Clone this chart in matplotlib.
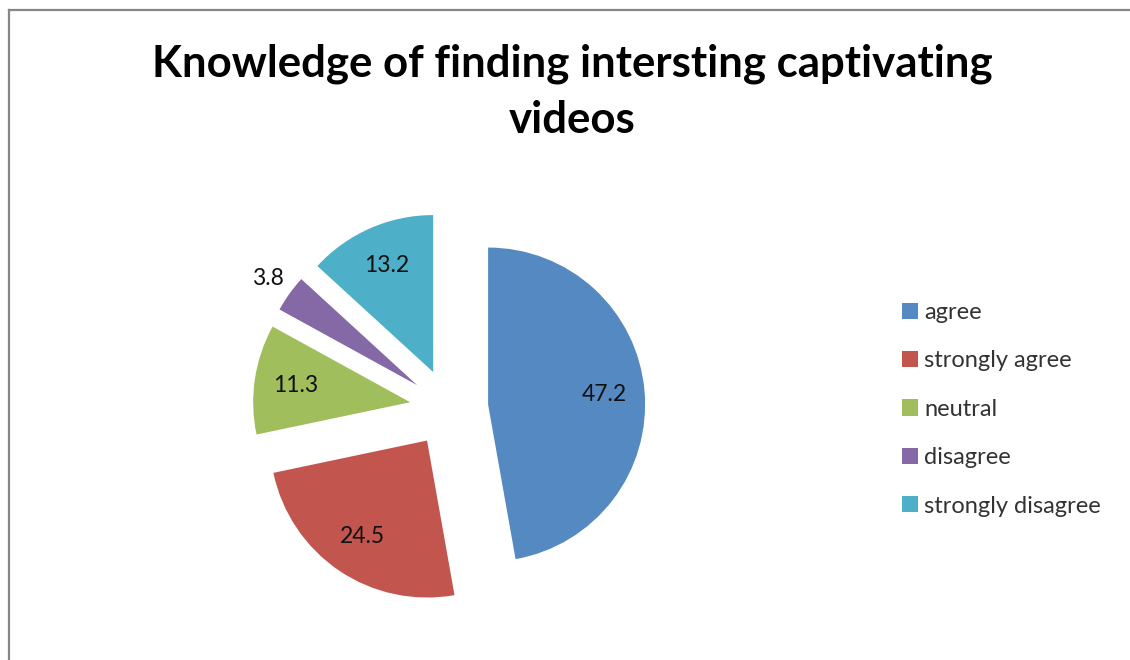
import matplotlib
matplotlib.use("Agg")
import matplotlib.pyplot as plt
from matplotlib.lines import Line2D
import numpy as np

title_lines = ["Knowledge of finding intersting captivating", "videos"]
categories = ["agree", "strongly agree", "neutral", "disagree", "strongly disagree"]
values = [47.2, 24.5, 11.3, 3.8, 13.2]
colors = ["#5589C1", "#C3554F", "#A0BF5C", "#8469A6", "#4EAFC8"]

W, H = 1130, 660
fig = plt.figure(figsize=(W / 100, H / 100), dpi=100)
fig.patch.set_facecolor("white")

R = 157.0
cx, cy = 449.0, 408.0
ax_w, ax_h = 600.0, 500.0
ax = fig.add_axes([(cx - ax_w / 2) / W, (H - cy - ax_h / 2) / H, ax_w / W, ax_h / H])

wedges, texts, autotexts = ax.pie(
    values, colors=colors, startangle=90, counterclock=False,
    explode=[0.25] * len(values), autopct=lambda p: f"{p:.1f}",
    pctdistance=0.74, radius=1.0,
    textprops=dict(fontsize=16.5, color="#111111", family=["Lato", "DejaVu Sans"]),
    wedgeprops=dict(linewidth=0),
)
# outside label for the small slice
w = wedges[3]
mid = np.deg2rad((w.theta1 + w.theta2) / 2)
autotexts[3].set_position((w.center[0] + 1.17 * np.cos(mid), w.center[1] + 1.17 * np.sin(mid)))

ax.set_xlim(-ax_w / 2 / R, ax_w / 2 / R)
ax.set_ylim(-ax_h / 2 / R, ax_h / 2 / R)
ax.set_aspect("equal")
ax.axis("off")

fig.text(572 / W, 1 - 76 / H, title_lines[0], ha="center", va="baseline",
         fontsize=31.5, fontweight="bold", family=["Lato", "DejaVu Sans"], color="black")
fig.text(572 / W, 1 - 133 / H, title_lines[1], ha="center", va="baseline",
         fontsize=31.5, fontweight="bold", family=["Lato", "DejaVu Sans"], color="black")

leg = fig.legend(wedges, categories, loc="upper left",
                 bbox_to_anchor=(902 / W, 1 - 302 / H), frameon=False,
                 prop=dict(family=["Lato", "DejaVu Sans"], size=17),
                 labelcolor="#333333", handlelength=0.68, handleheight=0.68,
                 handletextpad=0.25, labelspacing=1.16, borderaxespad=0, borderpad=0)

# chart frame (top and left edges visible)
fig.add_artist(Line2D([8.5 / W, 8.5 / W], [0, 1 - 9.5 / H], transform=fig.transFigure,
                      color="#878787", linewidth=1.6))
fig.add_artist(Line2D([8.5 / W, 1], [1 - 9.5 / H, 1 - 9.5 / H], transform=fig.transFigure,
                      color="#878787", linewidth=1.6))

fig.savefig("out.png", dpi=100, facecolor="white")
